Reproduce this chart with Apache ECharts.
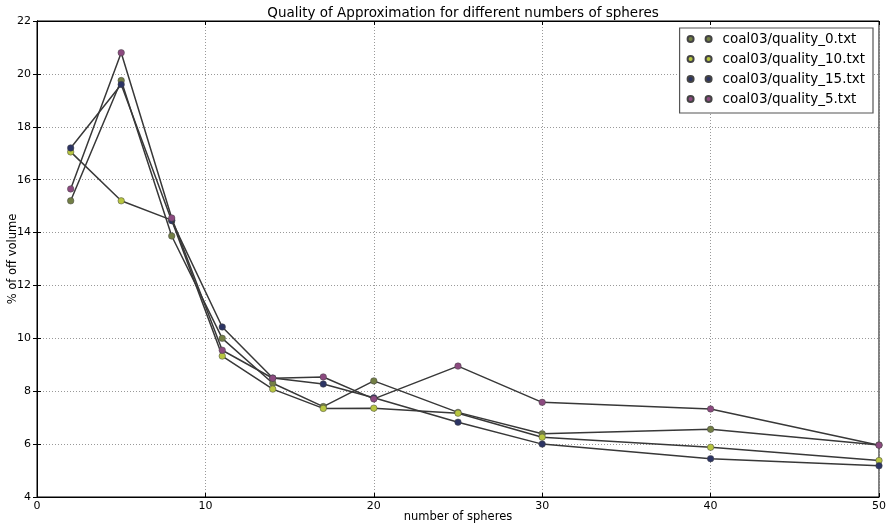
<!DOCTYPE html>
<html>
<head>
<meta charset="utf-8">
<script src="https://cdn.jsdelivr.net/npm/echarts@6/dist/echarts.min.js"></script>
<style>html,body{margin:0;padding:0;background:#fff}#c{width:887px;height:526px}</style>
</head>
<body>
<div id="c"></div>
<script>
const xValues = [2, 5, 8, 11, 14, 17, 20, 25, 30, 40, 50];
const seriesNames = ['coal03/quality_0.txt', 'coal03/quality_10.txt', 'coal03/quality_15.txt', 'coal03/quality_5.txt'];
const quality0  = [15.2, 19.75, 13.87, 10.0, 8.3, 7.42, 8.39, 7.2, 6.39, 6.56, 5.97];
const quality10 = [17.05, 15.2, 14.47, 9.33, 8.08, 7.35, 7.36, 7.17, 6.26, 5.88, 5.38];
const quality15 = [17.2, 19.6, 14.45, 10.43, 8.5, 8.27, 7.75, 6.83, 6.0, 5.45, 5.18];
const quality5  = [15.65, 20.8, 14.55, 9.55, 8.49, 8.54, 7.71, 8.95, 7.58, 7.33, 5.96];
const seriesValues = [quality0, quality10, quality15, quality5];
const colors = ['#737f45', '#b8c640', '#2c3464', '#8c4a80'];

const chart = echarts.init(document.getElementById('c'));
const FONT = 'DejaVu Sans';
const icon = 'path://M0,3a3,3 0 1,0 6,0a3,3 0 1,0 -6,0M18,3a3,3 0 1,0 6,0a3,3 0 1,0 -6,0';

const series = seriesNames.map((name, i) => ({
  name: name,
  type: 'line',
  data: xValues.map((x, j) => [x, seriesValues[i][j]]),
  symbol: 'circle',
  symbolSize: 6.5,
  showSymbol: true,
  animation: false,
  lineStyle: { color: '#383838', width: 1.5 },
  itemStyle: { color: colors[i], borderColor: '#444', borderWidth: 0.5 },
  emphasis: { disabled: true },
  z: 2 + i
}));

chart.setOption({
  animation: false,
  backgroundColor: '#fff',
  title: {
    text: 'Quality of Approximation for different numbers of spheres',
    left: 458, top: 1, textAlign: 'center',
    textStyle: { fontFamily: FONT, fontSize: 13.5, fontWeight: 'normal', color: '#000' }
  },
  grid: { left: 37, right: 8, top: 21, bottom: 29, show: true, borderColor: '#000', borderWidth: 1, containLabel: false, outerBoundsMode: 'none' },
  legend: {
    data: seriesNames.map((n, i) => ({ name: n, icon: icon })),
    orient: 'vertical',
    right: 14, top: 28,
    itemWidth: 24, itemHeight: 6, itemGap: 6,
    padding: [4, 8, 7, 7],
    borderColor: '#555', borderWidth: 1.2, backgroundColor: '#fff',
    textStyle: { fontFamily: FONT, fontSize: 13.5, color: '#000', padding: [0, 0, 0, 6] },
    selectedMode: false
  },
  xAxis: [{
    type: 'value', min: 0, max: 50, interval: 10,
    name: 'number of spheres', nameLocation: 'middle', nameGap: 14, nameMoveOverlap: false,
    nameTextStyle: { fontFamily: FONT, fontSize: 11.5, color: '#000' },
    axisLine: { show: true, lineStyle: { color: '#000' } },
    axisTick: { show: true, inside: true, length: 4, lineStyle: { color: '#000' } },
    axisLabel: { fontFamily: FONT, fontSize: 11, color: '#000', margin: 4 },
    splitLine: { show: true, lineStyle: { color: '#999', type: [1, 2], width: 1 } }
  }, {
    type: 'value', min: 0, max: 50, interval: 10, position: 'top',
    axisLine: { show: true, lineStyle: { color: '#000' } },
    axisTick: { show: true, inside: true, length: 4, lineStyle: { color: '#000' } },
    axisLabel: { show: false }, splitLine: { show: false }
  }],
  yAxis: [{
    type: 'value', min: 4, max: 22, interval: 2,
    name: '% of off volume', nameLocation: 'middle', nameGap: 18, nameMoveOverlap: false,
    nameTextStyle: { fontFamily: FONT, fontSize: 11.5, color: '#000' },
    axisLine: { show: true, lineStyle: { color: '#000' } },
    axisTick: { show: true, inside: true, length: 4, lineStyle: { color: '#000' } },
    axisLabel: { fontFamily: FONT, fontSize: 11, color: '#000', margin: 6 },
    splitLine: { show: true, lineStyle: { color: '#999', type: [1, 2], width: 1 } }
  }, {
    type: 'value', min: 4, max: 22, interval: 2, position: 'right',
    axisLine: { show: true, lineStyle: { color: '#000' } },
    axisTick: { show: true, inside: true, length: 4, lineStyle: { color: '#000' } },
    axisLabel: { show: false }, splitLine: { show: false }
  }],
  series: series
});
</script>
</body>
</html>
